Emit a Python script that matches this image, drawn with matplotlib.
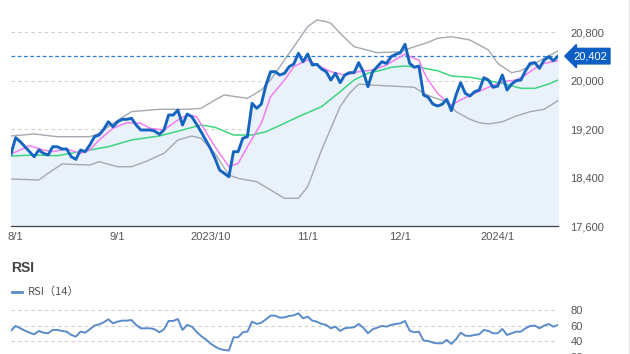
import matplotlib
matplotlib.use("Agg")
import matplotlib.pyplot as plt
from matplotlib.lines import Line2D
from matplotlib.transforms import blended_transform_factory

# trading-day index 0..118 (7/31/2023 .. 1/26/2024)
close = [
    18788, 19057, 18991, 18908, 18826, 18743, 18854, 18799, 18771, 18908,
    18908, 18870, 18870, 18743, 18700, 18854, 18826, 18936, 19073, 19101,
    19195, 19320, 19238, 19320, 19360, 19360, 19377, 19266, 19184, 19184,
    19184, 19167, 19112, 19184, 19431, 19431, 19513, 19266, 19447, 19403,
    19283, 19155, 19019, 18882, 18717, 18524, 18469, 18413, 18826, 18826,
    19046, 19073, 19624, 19541, 19612, 19926, 20145, 20145, 20091, 20119,
    20228, 20272, 20449, 20310, 20437, 20256, 20267, 20190, 20145, 20008,
    20119, 19964, 20091, 20129, 20129, 20294, 20145, 19898, 20145, 20228,
    20310, 20283, 20393, 20432, 20459, 20597, 20283, 20218, 20239, 19761,
    19723, 19612, 19579, 19607, 19690, 19502, 19761, 19964, 19789, 19744,
    19815, 19843, 20046, 20008, 19888, 19909, 20091, 19843, 19942, 19997,
    20008, 20162, 20283, 20294, 20201, 20338, 20393, 20327, 20402,
]

rsi = [
    53.6, 59.6, 56.6, 53.6, 51.0, 48.9, 53.2, 51.0, 50.2, 54.5,
    54.5, 53.2, 52.3, 48.1, 46.0, 52.3, 51.0, 55.3, 60.0, 61.7,
    64.3, 68.1, 63.0, 65.1, 66.4, 66.4, 67.2, 60.9, 56.6, 56.6,
    56.6, 55.3, 51.5, 55.3, 66.0, 66.0, 68.5, 54.5, 60.9, 58.7,
    52.3, 46.8, 42.6, 37.4, 33.2, 30.2, 28.9, 28.1, 45.1, 45.1,
    51.5, 52.3, 65.1, 62.1, 63.8, 68.1, 72.8, 72.8, 70.2, 70.6,
    72.3, 73.2, 75.7, 69.4, 71.5, 66.4, 65.1, 62.1, 60.9, 56.6,
    58.7, 53.2, 56.6, 57.4, 57.9, 62.1, 57.4, 50.2, 55.3, 57.4,
    59.6, 58.7, 60.9, 62.1, 63.0, 66.0, 53.6, 51.5, 52.3, 40.9,
    40.4, 38.3, 37.4, 37.4, 41.7, 36.6, 42.6, 51.0, 47.2, 46.8,
    48.1, 48.9, 54.5, 53.2, 50.2, 50.2, 55.7, 48.1, 50.2, 52.3,
    52.3, 56.6, 59.6, 60.0, 56.6, 60.0, 62.1, 58.7, 60.9,
]

# short moving average (pink), read at sample days
ma_short_x = [0, 2, 4, 7, 9, 12, 15, 17, 19, 22, 25, 28, 30, 33, 36, 38,
              40, 42, 44, 47, 49, 51, 54, 56, 59, 61, 64, 66, 69, 72, 75,
              78, 81, 84, 85, 87, 88, 89, 90, 92, 94, 95, 97, 100, 103,
              106, 109, 111, 113, 115, 118]
ma_short = [18788, 18854, 18925, 18854, 18826, 18870, 18799, 18854, 19019,
            19211, 19304, 19294, 19211, 19184, 19349, 19431, 19403, 19155,
            18908, 18578, 18634, 18908, 19294, 19733, 20008, 20228, 20340,
            20256, 20145, 20091, 20145, 20173, 20256, 20393, 20432, 20366,
            20338, 20150, 20008, 19789, 19650, 19596, 19679, 19789, 19888,
            19980, 20008, 20091, 20201, 20283, 20327]

# 25-day moving average (green), read at sample days
ma_long_x = [0, 5, 10, 15, 21, 26, 32, 37, 41, 44, 48, 52, 55, 59, 62, 67,
             71, 74, 77, 80, 82, 85, 88, 92, 95, 99, 103, 106, 110, 113,
             116, 118]
ma_long = [18755, 18771, 18760, 18826, 18908, 19019, 19085, 19184, 19266,
           19228, 19101, 19101, 19155, 19294, 19403, 19569, 19815, 20008,
           20119, 20173, 20218, 20239, 20218, 20162, 20074, 20053, 19997,
           19954, 19871, 19871, 19942, 20008]

# bollinger bands (gray), read at sample days
upper_x = [0, 5, 10, 17, 19, 22, 26, 32, 38, 41, 44, 46, 51, 54, 56, 59,
           62, 64, 66, 68, 69, 71, 74, 79, 84, 86, 90, 92, 95, 99, 103,
           105, 108, 110, 113, 118]
upper = [19085, 19118, 19073, 19073, 19129, 19294, 19486, 19525, 19525,
         19541, 19679, 19761, 19706, 19843, 20008, 20338, 20668, 20888,
         21000, 20970, 20944, 20778, 20558, 20459, 20475, 20531, 20630,
         20696, 20723, 20668, 20503, 20283, 20129, 20162, 20283, 20487]

lower_x = [0, 6, 8, 11, 17, 19, 23, 26, 29, 33, 36, 39, 41, 44, 47, 49,
           53, 56, 59, 62, 64, 67, 71, 73, 75, 77, 82, 87, 89, 91, 94,
           96, 99, 101, 103, 106, 109, 112, 115, 118]
lower = [18375, 18359, 18469, 18623, 18606, 18661, 18578, 18578, 18661,
         18799, 19019, 19085, 19046, 18799, 18441, 18386, 18331, 18194,
         18057, 18057, 18248, 18854, 19569, 19789, 19942, 19926, 19909,
         19888, 19789, 19723, 19650, 19486, 19360, 19304, 19283, 19320,
         19414, 19486, 19525, 19667]

tick_pos = [1, 23, 43, 64, 84, 105]
tick_labels = ["8/1", "9/1", "2023/10", "11/1", "12/1", "2024/1"]
price_ticks = [17600, 18400, 19200, 20000, 20800]
rsi_ticks = [20, 40, 60, 80]
last_price = 20402

BLUE = "#1565c0"
GRID = "#cfcfcf"
TXT = "#555555"

plt.rcParams["font.family"] = ["Liberation Sans", "DejaVu Sans"]

fig = plt.figure(figsize=(6.3, 3.54), dpi=100, facecolor="white")
W, H = 630, 354

# main price chart
ax = fig.add_axes([11 / W, (H - 226) / H, 547 / W, 226 / H])
x = list(range(len(close)))
ax.fill_between(x, close, 17600, color="#e9f1fa", zorder=1)
ax.plot(upper_x, upper, color="#a3a9b1", lw=1.0, zorder=2)
ax.plot(lower_x, lower, color="#a3a9b1", lw=1.0, zorder=2)
ax.plot(ma_long_x, ma_long, color="#3dd57f", lw=1.1, zorder=3)
ax.plot(ma_short_x, ma_short, color="#f27ef0", lw=1.1, zorder=3)
ax.plot(x, close, color=BLUE, lw=2.1, zorder=4)
ax.axhline(last_price, color="#2f7fd8", lw=0.9, ls=(0, (3, 2)), zorder=2)
ax.set_xlim(0, 118)
ax.set_ylim(17600, 21328)
ax.set_yticks(price_ticks)
ax.set_yticklabels([f"{v:,}" for v in price_ticks])
ax.yaxis.tick_right()
ax.set_xticks(tick_pos)
ax.set_xticklabels(tick_labels)
ax.tick_params(axis="both", length=0, labelsize=8, colors=TXT)
ax.tick_params(axis="y", pad=9)
ax.tick_params(axis="x", pad=4)
for v in price_ticks[1:]:
    ax.axhline(v, color=GRID, lw=0.8, ls=(0, (3, 3)), zorder=0)
for s in ["top", "right", "left"]:
    ax.spines[s].set_visible(False)
ax.spines["bottom"].set_color("#444444")
ax.spines["bottom"].set_linewidth(0.9)

# current price tag
tr = blended_transform_factory(ax.transAxes, ax.transData)
ax.text(1.028, last_price, f"{last_price:,}", transform=tr, ha="left",
        va="center", color="white", fontsize=8, clip_on=False,
        bbox=dict(boxstyle="larrow,pad=0.25", fc="#0b5ec4", ec="#0b5ec4"))

# RSI panel
fig.text(11 / W, 1 - 268 / H, "RSI", fontsize=10, fontweight="bold",
         color="#444444", va="center")
fig.add_artist(Line2D([12 / W, 22 / W], [1 - 292 / H] * 2,
                      color="#5b8bc9", lw=2))
fig.text(28 / W, 1 - 292 / H, "RSI（14）", fontsize=8, color=TXT,
         va="center", family=["Noto Sans CJK JP", "DejaVu Sans"])

rax = fig.add_axes([11 / W, -8 / H, 547 / W, 66 / H])
rax.plot(x, rsi, color="#5b8bc9", lw=1.4)
rax.set_xlim(0, 118)
rax.set_ylim(13.5, 97.9)
rax.set_yticks(rsi_ticks)
rax.yaxis.tick_right()
rax.set_xticks([])
rax.tick_params(axis="y", length=0, labelsize=8, colors=TXT, pad=9)
for v in rsi_ticks:
    rax.axhline(v, color=GRID, lw=0.8, ls=(0, (3, 3)), zorder=0)
for s in rax.spines.values():
    s.set_visible(False)

# right border
fig.add_artist(Line2D([628.5 / W] * 2, [0, 1], color="#e6e6e6", lw=1))

fig.savefig("out.png", dpi=100, facecolor="white")
